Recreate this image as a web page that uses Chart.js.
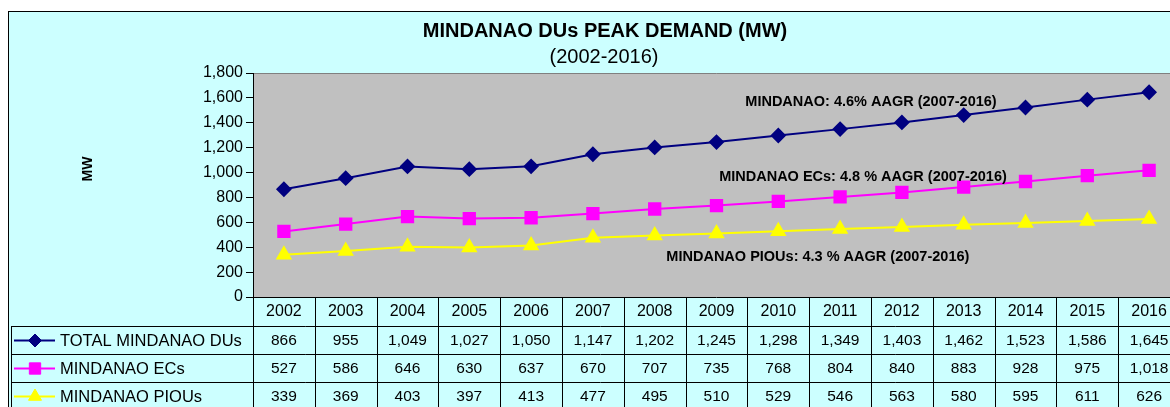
<!DOCTYPE html>
<html>
<head>
<meta charset="utf-8">
<script src="https://cdn.jsdelivr.net/npm/chart.js@4/dist/chart.umd.min.js"></script>
<style>
  html, body { margin: 0; padding: 0; background: #ffffff; overflow: hidden; width: 1170px; height: 407px; }
  #wrap { position: absolute; left: 0; top: 0; width: 1190px; height: 407px; }
  canvas { display: block; }
</style>
</head>
<body>
<div id="wrap"><canvas id="c" width="1190" height="407"></canvas></div>
<script>
const categories = ['2002','2003','2004','2005','2006','2007','2008','2009','2010','2011','2012','2013','2014','2015','2016'];
const totalDUs = [866, 955, 1049, 1027, 1050, 1147, 1202, 1245, 1298, 1349, 1403, 1462, 1523, 1586, 1645];
const mindanaoECs = [527, 586, 646, 630, 637, 670, 707, 735, 768, 804, 840, 883, 928, 975, 1018];
const mindanaoPIOUs = [339, 369, 403, 397, 413, 477, 495, 510, 529, 546, 563, 580, 595, 611, 626];
const seriesNames = ['TOTAL MINDANAO DUs', 'MINDANAO ECs', 'MINDANAO PIOUs'];
const yTicks = [0, 200, 400, 600, 800, 1000, 1200, 1400, 1600, 1800];
const titleText = 'MINDANAO DUs PEAK DEMAND (MW)';
const subtitleText = '(2002-2016)';
const yAxisLabel = 'MW';
const annotTexts = ['MINDANAO: 4.6% AAGR (2007-2016)', 'MINDANAO ECs: 4.8 % AAGR (2007-2016)', 'MINDANAO PIOUs: 4.3 % AAGR (2007-2016)'];
// annotation anchors in data units (category index, value)
const annotX = [9.5, 9.37, 8.64];
const annotY = [1567, 964, 321];

const fmt = v => v.toLocaleString('en-US');
const F = 'Arial, "Liberation Sans", sans-serif';

const decor = {
  id: 'decor',
  beforeDraw(chart) {
    const ctx = chart.ctx, a = chart.chartArea;
    ctx.save();
    ctx.fillStyle = '#ffffff';
    ctx.fillRect(0, 0, chart.width, chart.height);
    ctx.fillStyle = '#CCFFFF';
    ctx.fillRect(8, 11, chart.width, chart.height);
    ctx.strokeStyle = '#000000';
    ctx.lineWidth = 1;
    ctx.strokeRect(8.5, 11.5, chart.width + 10, chart.height + 10);
    ctx.fillStyle = '#C0C0C0';
    ctx.fillRect(a.left, a.top, a.right - a.left, a.bottom - a.top);
    ctx.strokeStyle = '#808080';
    ctx.beginPath();
    ctx.moveTo(a.left, a.top + 0.5);
    ctx.lineTo(a.right, a.top + 0.5);
    ctx.stroke();
    ctx.restore();
  },
  afterDraw(chart) {
    const ctx = chart.ctx, a = chart.chartArea;
    const xs = chart.scales.x, ys = chart.scales.y;
    const n = categories.length;
    const cw = (a.right - a.left) / n;
    ctx.save();
    // title
    ctx.fillStyle = '#000';
    ctx.textAlign = 'center';
    ctx.textBaseline = 'middle';
    ctx.font = 'bold 20px ' + F;
    ctx.fillText(titleText, 605, 31);
    ctx.font = '20px ' + F;
    ctx.fillText(subtitleText, 604, 57);
    // y label
    ctx.save();
    ctx.translate(88, 169);
    ctx.rotate(-Math.PI / 2);
    ctx.font = 'bold 14px ' + F;
    ctx.fillText(yAxisLabel, 0, 0);
    ctx.restore();
    // annotations
    ctx.font = 'bold 14.5px ' + F;
    for (let i = 0; i < annotTexts.length; i++) {
      const px = a.left + (annotX[i] + 0.5) * cw;
      ctx.fillText(annotTexts[i], px, ys.getPixelForValue(annotY[i]));
    }
    // data table
    const rowH = 28;
    const top = a.bottom;
    const r1 = top + 29;
    const tableLeft = 11;
    ctx.strokeStyle = '#000';
    ctx.lineWidth = 1;
    ctx.beginPath();
    for (let r = 0; r < 3; r++) {
      const y = Math.round(r1 + r * rowH) + 0.5;
      ctx.moveTo(tableLeft, y);
      ctx.lineTo(chart.width, y);
    }
    ctx.moveTo(a.left, top + 0.5);
    ctx.lineTo(a.right, top + 0.5);
    for (let i = 0; i <= n; i++) {
      const x = Math.round(a.left + i * cw) + 0.5;
      ctx.moveTo(x, top);
      ctx.lineTo(x, chart.height);
    }
    ctx.moveTo(tableLeft + 0.5, r1);
    ctx.lineTo(tableLeft + 0.5, chart.height);
    ctx.stroke();
    // header text
    ctx.font = '16px ' + F;
    ctx.fillStyle = '#000';
    ctx.textAlign = 'center';
    for (let i = 0; i < n; i++) {
      ctx.fillText(categories[i], xs.getPixelForValue(i), top + 15);
    }
    const sets = [totalDUs, mindanaoECs, mindanaoPIOUs];
    const ds = chart.data.datasets;
    for (let r = 0; r < 3; r++) {
      const cy = r1 + r * rowH + 14.5;
      ctx.font = '15.5px ' + F;
      for (let i = 0; i < n; i++) {
        ctx.fillText(fmt(sets[r][i]), xs.getPixelForValue(i), cy);
      }
      // legend key
      ctx.strokeStyle = ds[r].borderColor;
      ctx.lineWidth = 2;
      ctx.beginPath();
      ctx.moveTo(14, cy);
      ctx.lineTo(55, cy);
      ctx.stroke();
      ctx.fillStyle = ds[r].pointBackgroundColor;
      ctx.strokeStyle = ds[r].borderColor;
      ctx.lineWidth = 1;
      Chart.helpers.drawPoint(ctx, {pointStyle: ds[r].pointStyle, radius: ds[r].pointRadius, rotation: 0, borderWidth: 1}, 35, cy);
      ctx.fillStyle = '#000';
      ctx.textAlign = 'left';
      ctx.font = '16.5px ' + F;
      ctx.fillText(seriesNames[r], 60, cy + 1);
      ctx.textAlign = 'center';
    }
    ctx.restore();
  }
};

new Chart(document.getElementById('c'), {
  type: 'line',
  data: {
    labels: categories,
    datasets: [
      { label: seriesNames[0], data: totalDUs, borderColor: '#000080', backgroundColor: '#000080', pointBackgroundColor: '#000080', pointBorderColor: '#000080', pointStyle: 'rectRot', pointRadius: 6.5, borderWidth: 2, tension: 0 },
      { label: seriesNames[1], data: mindanaoECs, borderColor: '#FF00FF', backgroundColor: '#FF00FF', pointBackgroundColor: '#FF00FF', pointBorderColor: '#FF00FF', pointStyle: 'rect', pointRadius: 8, borderWidth: 2, tension: 0 },
      { label: seriesNames[2], data: mindanaoPIOUs, borderColor: '#FFFF00', backgroundColor: '#FFFF00', pointBackgroundColor: '#FFFF00', pointBorderColor: '#FFFF00', pointStyle: 'triangle', pointRadius: 7.5, borderWidth: 2, tension: 0 }
    ]
  },
  options: {
    responsive: false,
    animation: false,
    devicePixelRatio: 1,
    layout: { padding: { top: 73, bottom: 110, left: 0, right: 10 } },
    plugins: { legend: { display: false }, title: { display: false }, tooltip: { enabled: false } },
    scales: {
      x: { type: 'category', display: false, offset: true },
      y: {
        min: 0, max: 1800,
        afterBuildTicks: s => { s.ticks = yTicks.map(v => ({ value: v })); },
        afterFit: s => { s.width = 253; },
        ticks: { color: '#000', font: { family: F, size: 16 }, padding: 3, callback: v => fmt(v) },
        grid: { drawOnChartArea: false, drawTicks: true, tickLength: 7, color: '#000' },
        border: { display: true, color: '#000', width: 1 }
      }
    }
  },
  plugins: [decor]
});
</script>
</body>
</html>
